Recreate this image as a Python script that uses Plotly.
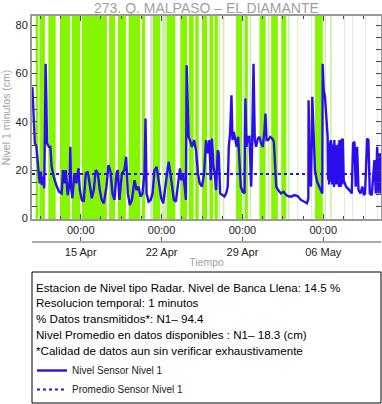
import pandas as pd
import plotly.graph_objects as go

# ---------------- data (times are fractional "day of April": 15.0 = 15 Apr 00:00, 36.0 = 06 May 00:00)
t_nivel = [10.81, 10.86, 10.94, 11.03, 11.15, 11.27, 11.35, 11.44, 11.55, 11.64, 11.76, 11.84, 11.93, 11.96,
           12.02, 12.08, 12.25, 12.37, 12.48, 12.66, 12.88, 13.12, 13.35, 13.46, 13.58, 13.70, 13.87, 14.05,
           14.10, 14.16, 14.28, 14.45, 14.63, 14.80, 14.92, 15.09, 15.26, 15.44, 15.61, 15.78, 15.96, 16.13,
           16.30, 16.48, 16.65, 16.82, 17.00, 17.23, 17.40, 17.58, 17.75, 17.92, 18.10, 18.21, 18.35, 18.56,
           18.79, 18.93, 19.08, 19.25, 19.43, 19.66, 19.83, 20.00, 20.18, 20.35, 20.52, 20.61, 20.70, 20.87,
           21.05, 21.22, 21.39, 21.57, 21.74, 21.97, 22.14, 22.32, 22.49, 22.61, 22.72, 22.90, 23.07, 23.24,
           23.42, 23.59, 23.71, 23.85, 24.00, 24.11, 24.17, 24.23, 24.34, 24.46, 24.63, 24.81, 24.98, 25.15,
           25.30, 25.50, 25.68, 25.85, 26.00, 26.14, 26.26, 26.37, 26.49, 26.60, 26.72, 26.86, 26.95, 27.07,
           27.24, 27.44, 27.59, 27.73, 27.82, 27.93, 28.05, 28.14, 28.25, 28.40, 28.51, 28.63, 28.74, 28.86,
           29.03, 29.18, 29.21, 29.26, 29.35, 29.47, 29.61, 29.76, 29.84, 29.96, 30.07, 30.19, 30.33, 30.48,
           30.62, 30.77, 30.91, 31.00, 31.09, 31.23, 31.41, 31.58, 31.72, 31.84, 31.93, 32.10, 32.33, 32.56,
           32.79, 33.03, 33.26, 33.49, 33.78, 34.07, 34.36, 34.59, 34.71, 34.73, 34.82, 34.94, 35.05, 35.17,
           35.28, 35.46, 35.63, 35.80, 35.92, 35.95, 36.04, 36.15, 36.27, 36.38, 36.42, 36.46, 36.50, 36.53,
           36.57, 36.61, 36.64, 36.67, 36.71, 36.75, 36.78, 36.82, 36.86, 36.90, 36.93, 36.96, 37.00, 37.04,
           37.07, 37.11, 37.15, 37.19, 37.22, 37.25, 37.29, 37.33, 37.36, 37.40, 37.44, 37.48, 37.51, 37.54,
           37.58, 37.62, 37.65, 37.69, 37.77, 37.97, 38.26, 38.47, 38.58, 38.70, 38.81, 38.93, 39.05, 39.22,
           39.39, 39.51, 39.62, 39.80, 39.91, 40.03, 40.20, 40.32, 40.43, 40.55, 40.67, 40.78, 40.90, 41.01]
nivel_cm = [54.4, 48.9, 40.6, 31.0, 30.3, 24.1, 18.6, 14.5, 19.3, 13.8, 17.2, 12.4, 50.0, 64.0,
            50.0, 31.0, 29.6, 29.6, 21.3, 17.2, 13.8, 11.0, 10.3, 20.0, 14.5, 20.0, 9.6, 15.8,
            29.6, 13.1, 8.3, 18.6, 14.5, 20.7, 11.7, 7.6, 6.9, 18.6, 19.3, 13.1, 8.3, 11.7,
            20.0, 18.6, 11.7, 7.6, 6.2, 13.1, 22.0, 19.3, 10.3, 7.6, 18.6, 20.0, 7.6, 18.6,
            20.0, 25.5, 10.3, 5.5, 7.6, 15.8, 11.7, 13.1, 9.0, 10.3, 18.6, 41.3, 10.3, 6.9,
            7.6, 10.3, 20.0, 21.3, 15.8, 8.3, 6.2, 13.1, 20.0, 23.4, 20.0, 13.1, 7.6, 6.9,
            13.1, 20.7, 15.8, 18.6, 13.1, 7.6, 63.4, 48.9, 33.7, 32.4, 29.6, 32.4, 28.2, 18.6,
            14.5, 13.1, 18.6, 32.4, 26.9, 32.4, 15.8, 33.0, 21.3, 18.6, 11.7, 28.2, 26.9, 10.3,
            9.6, 9.0, 10.3, 13.1, 29.6, 35.1, 51.0, 32.4, 35.8, 32.4, 29.6, 33.7, 21.3, 13.1,
            11.0, 10.3, 29.6, 49.6, 29.6, 33.7, 33.7, 13.1, 29.6, 64.0, 32.4, 29.6, 33.0, 33.7,
            31.0, 29.6, 36.5, 43.4, 32.4, 32.4, 33.7, 33.0, 31.7, 21.3, 13.1, 11.7, 10.3, 11.0,
            9.6, 9.0, 9.0, 9.6, 9.2, 7.6, 6.9, 6.2, 8.3, 48.9, 18.6, 13.1, 50.3, 29.6,
            20.0, 15.2, 13.1, 11.0, 10.3, 64.0, 53.0, 50.3, 43.4, 33.7, 16.0, 31.0, 14.0, 31.0,
            18.0, 32.0, 15.0, 32.4, 17.0, 30.0, 14.0, 29.6, 16.0, 31.0, 13.0, 32.4, 15.0, 30.0,
            14.0, 30.3, 17.0, 28.0, 14.0, 26.9, 15.0, 31.0, 13.0, 32.4, 16.0, 32.0, 13.0, 32.4,
            15.0, 33.0, 14.0, 33.0, 15.8, 13.1, 11.7, 10.3, 31.0, 31.7, 13.1, 29.6, 11.7, 10.3,
            13.1, 9.6, 10.3, 33.0, 32.4, 10.3, 9.6, 20.0, 24.1, 10.3, 29.6, 10.3, 26.9, 10.3]
promedio_cm = 18.3

# periods marked in the chart background (start, end) in day-of-April
bandas_verdes = [(11.10, 11.32), (11.42, 11.90), (12.19, 12.83), (13.20, 14.07), (14.22, 14.94),
                 (15.09, 17.26), (17.46, 17.98), (18.21, 18.91), (19.14, 20.15), (20.30, 20.58),
                 (21.22, 21.88), (22.46, 23.19), (23.62, 24.20), (24.35, 24.78), (24.92, 25.22),
                 (25.50, 25.94), (26.14, 26.46), (26.57, 26.87), (28.45, 28.98), (29.18, 29.47),
                 (30.48, 31.00), (31.49, 32.07), (32.36, 32.80), (35.29, 35.95)]
bandas_claras = [(22.03, 22.46), (26.95, 27.07), (27.30, 27.44), (29.61, 29.76), (31.21, 31.35),
                 (32.94, 33.08), (33.76, 33.82), (34.97, 35.03), (36.15, 36.24), (36.58, 36.72),
                 (37.80, 37.86)]
bandas_grises = [(21.02, 21.22), (29.04, 29.18), (38.52, 38.58), (39.62, 39.68), (40.64, 40.70)]

rango_dias = (10.78, 41.0)
semana_tick0 = 15.0

titulo = "273. Q. MALPASO – EL DIAMANTE"
info_lineas = ["Estacion de Nivel tipo Radar. Nivel de Banca Llena: 14.5 %",
               "Resolucion temporal: 1 minutos",
               "% Datos transmitidos*: N1– 94.4",
               "Nivel Promedio en datos disponibles : N1– 18.3 (cm)",
               "*Calidad de datos aun sin verificar exhaustivamente"]

# ---------------- helpers
BASE = pd.Timestamp("2023-04-01")


def dt(d):
    return (BASE + pd.to_timedelta(d - 1, unit="D")).strftime("%Y-%m-%d %H:%M:%S")


W, H, MT, MB, ML, MR = 382, 404, 16, 0, 32, 1


def py(px):
    return (H - px) / (H - MT - MB)


def px_x(px):
    return (px - ML) / (W - ML - MR)


FONT = "Liberation Sans, Arial, sans-serif"
AZUL = "#2a0ef0"
GRIS = "#a0a0a0"

x_rng = [dt(rango_dias[0]), dt(rango_dias[1])]

fig = go.Figure()

fig.add_trace(go.Scatter(x=[dt(d) for d in t_nivel], y=nivel_cm, mode="lines",
                         line=dict(color=AZUL, width=2.4), name="Nivel Sensor Nivel 1"))
fig.add_trace(go.Scatter(x=x_rng, y=[promedio_cm, promedio_cm], mode="lines",
                         line=dict(color=AZUL, width=2, dash="dot"), name="Promedio Sensor Nivel 1"))
fig.add_trace(go.Scatter(x=x_rng, y=[None, None], xaxis="x2", showlegend=False, hoverinfo="skip"))

shapes = []
for lista, color in ((bandas_verdes, "#86f500"), (bandas_claras, "#c9f2a6"), (bandas_grises, "#dcdcdc")):
    for s, e in lista:
        shapes.append(dict(type="rect", xref="x", yref="y domain", x0=dt(s), x1=dt(e), y0=0, y1=1,
                           fillcolor=color, line_width=0, layer="below"))
shapes.append(dict(type="rect", xref="paper", yref="paper", x0=0, x1=1, y0=py(403), y1=py(272),
                   line=dict(color="black", width=1), fillcolor="rgba(0,0,0,0)"))

annotations = []
for i, txt in enumerate(info_lineas):
    annotations.append(dict(text=txt, xref="paper", yref="paper", x=px_x(34), y=py(287 + 15.8 * i),
                            xanchor="left", yanchor="middle", showarrow=False,
                            font=dict(family=FONT, size=11.6, color="black")))
annotations.append(dict(text=titulo, xref="paper", yref="paper", x=0.5, y=py(8), xanchor="center",
                        yanchor="middle", showarrow=False, font=dict(family=FONT, size=14, color=GRIS)))

WEEK = 7 * 86400000
fig.update_layout(
    width=W, height=H, margin=dict(l=ML, r=MR, t=MT, b=MB, autoexpand=False),
    paper_bgcolor="white", plot_bgcolor="white",
    font=dict(family=FONT, size=11, color="#222"),
    xaxis=dict(type="date", range=x_rng, tickmode="linear", tick0=dt(semana_tick0), dtick=WEEK,
               tickformat="%H:%M", ticks="inside", ticklen=5, tickcolor="#444", mirror="allticks",
               showline=True, linecolor="#999", linewidth=2, showgrid=False, zeroline=False,
               automargin=False,
               minor=dict(tickmode="linear", tick0=dt(semana_tick0), dtick=WEEK // 4, ticks="inside",
                          ticklen=3, tickcolor="#444"),
               tickfont=dict(size=11, color="#222")),
    xaxis2=dict(type="date", range=x_rng, overlaying="x", anchor="free", position=py(242),
                tickmode="linear", tick0=dt(semana_tick0), dtick=WEEK, tickformat="%d %b",
                ticks="inside", ticklen=4, tickcolor="#666", showline=True, linecolor="#aaa",
                linewidth=2, showgrid=False, zeroline=False, automargin=False,
                tickfont=dict(size=11, color="#222"),
                title=dict(text="Tiempo", standoff=0, font=dict(size=10.5, color=GRIS))),
    yaxis=dict(range=[-0.3, 83.8], domain=[py(219), 1], tickmode="linear", tick0=0, dtick=20,
               ticks="inside", ticklen=5, tickcolor="#444", mirror="allticks", showline=True,
               linecolor="#999", linewidth=2, showgrid=False, zeroline=False, automargin=False,
               minor=dict(tickmode="linear", tick0=0, dtick=5, ticks="inside", ticklen=3, tickcolor="#444"),
               tickfont=dict(size=11, color="#222"),
               title=dict(text="Nivel 1 minutos (cm)", standoff=3, font=dict(size=10.5, color=GRIS))),
    legend=dict(x=0, xanchor="left", y=py(356), yanchor="top", bgcolor="rgba(0,0,0,0)",
                font=dict(family=FONT, size=10, color="#222"), tracegroupgap=0),
    shapes=shapes, annotations=annotations, showlegend=True,
)

fig.write_html("out.html", config={"displayModeBar": False},
               post_script="document.body.style.margin='0';document.body.style.overflow='hidden';")
